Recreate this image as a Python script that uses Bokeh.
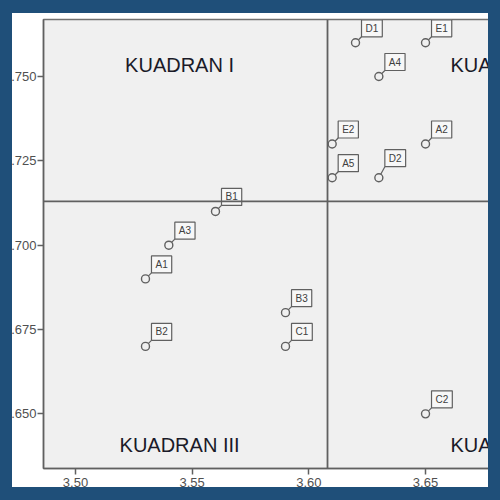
from bokeh.plotting import figure
from bokeh.models import ColumnDataSource, Span, FixedTicker, PrintfTickFormatter, Range1d, GlobalInlineStyleSheet
from bokeh.core.properties import value
from bokeh.embed import file_html
from bokeh.resources import INLINE

# ---- data ----
labels = ["D1", "E1", "A4", "E2", "A2", "A5", "D2", "B1", "A3", "A1", "B3", "B2", "C1", "C2"]
x_vals = [3.62, 3.65, 3.63, 3.61, 3.65, 3.61, 3.63, 3.56, 3.54, 3.53, 3.59, 3.53, 3.59, 3.65]
y_vals = [3.760, 3.760, 3.750, 3.730, 3.730, 3.720, 3.720, 3.710, 3.700, 3.690, 3.680, 3.670, 3.670, 3.650]
x_ticks = [3.50, 3.55, 3.60, 3.65]
y_ticks = [3.650, 3.675, 3.700, 3.725, 3.750]
x_ref = 3.608
y_ref = 3.713
quadrants = ["KUADRAN I", "KUADRAN II", "KUADRAN III", "KUADRAN IV"]

# ---- layout constants ----
FONT = "Liberation Sans"
W, H = 492, 492
MB_L, MB_R, MB_T, MB_B = 43, 0, 19, 24
X0, X1 = 3.4863, 3.6787
Y0, Y1 = 3.6338, 3.7669
frame_w = W - MB_L - MB_R
frame_h = H - MB_T - MB_B
ux = (X1 - X0) / frame_w   # data units per pixel
uy = (Y1 - Y0) / frame_h

css = """
html, body { background: #ffffff; margin: 0; padding: 0; }
body::after {
  content: ""; position: fixed; left: 0; top: 0; right: 0; bottom: 0;
  border-style: solid; border-color: #1f4f79;
  border-width: 13px 12px 13px 12px;
  pointer-events: none; z-index: 1000;
}
"""

p = figure(width=W, height=H, output_backend="svg", toolbar_location=None,
           x_range=Range1d(X0, X1), y_range=Range1d(Y0, Y1),
           min_border_left=MB_L, min_border_right=MB_R,
           min_border_top=MB_T, min_border_bottom=MB_B)
p.stylesheets = [GlobalInlineStyleSheet(css=css)]

p.background_fill_color = "#f0f0f0"
p.border_fill_color = "#ffffff"
p.outline_line_color = "#707070"
p.outline_line_width = 1.5
p.xgrid.visible = False
p.ygrid.visible = False

for ax in (p.xaxis[0], p.yaxis[0]):
    ax.axis_line_color = "#606060"
    ax.axis_line_width = 1.5
    ax.major_tick_line_color = "#606060"
    ax.major_tick_line_width = 1.5
    ax.major_tick_in = 0
    ax.major_tick_out = 6
    ax.minor_tick_line_color = None
    ax.major_label_text_font = FONT
    ax.major_label_text_font_size = "13px"
    ax.major_label_text_color = "#505050"
p.xaxis.ticker = FixedTicker(ticks=x_ticks)
p.xaxis.formatter = PrintfTickFormatter(format="%.2f")
p.xaxis.major_label_standoff = 3
p.yaxis.ticker = FixedTicker(ticks=y_ticks)
p.yaxis.formatter = PrintfTickFormatter(format="%.3f")
p.yaxis.major_label_standoff = 1

# reference lines
p.add_layout(Span(location=x_ref, dimension="height", line_color="#606060", line_width=1.8))
p.add_layout(Span(location=y_ref, dimension="width", line_color="#606060", line_width=1.8))

# quadrant labels
qx = [3.5446, 3.6607, 3.5446, 3.6607]
qy = [3.7533, 3.7533, 3.6409, 3.6409]
qalign = ["center", "left", "center", "left"]
qsrc = ColumnDataSource(dict(x=qx, y=qy, t=quadrants, a=qalign))
p.text(x="x", y="y", text="t", text_align="a", text_baseline="middle", source=qsrc,
       text_font=value(FONT), text_font_size="20px", text_color="#1a1a28")

# connectors
off_x = [6] * len(labels)
off_y = [6] * len(labels)
off_y[labels.index("D2")] = 11
src = ColumnDataSource(dict(
    x=x_vals, y=y_vals, lab=labels,
    x2=[x + ox * ux for x, ox in zip(x_vals, off_x)],
    y2=[y + oy * uy for y, oy in zip(y_vals, off_y)],
    ox=off_x, oy=[-o for o in off_y]))
p.segment(x0="x", y0="y", x1="x2", y1="y2", source=src, line_color="#606060", line_width=1.2)
p.text(x="x", y="y", text="lab", x_offset="ox", y_offset="oy", source=src,
       anchor="bottom_left", text_font=value(FONT), text_font_size="10px",
       text_color="#404040", padding=(4, 3),
       background_fill_color="#f7f7f7", border_line_color="#606060", border_line_width=1.2)
p.scatter(x="x", y="y", source=src, size=8, marker="circle",
          fill_color="#f0f0f0", line_color="#606060", line_width=1.4)

open("out.html", "w").write(file_html(p, INLINE))
